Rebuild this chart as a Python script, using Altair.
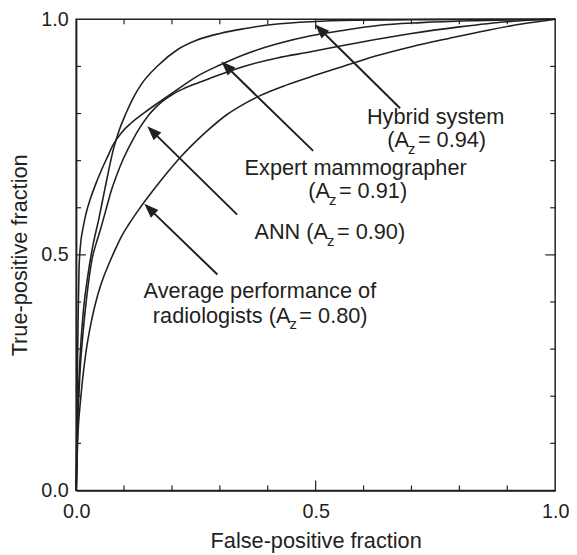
import math
import altair as alt
import pandas as pd

W, H = 485, 477
INK = "#231f20"
FONT = "Liberation Sans"

# ---- ROC curves (false-positive fraction, true-positive fraction) ----
hyb_fpf = [0, 0.003, 0.008, 0.015, 0.025, 0.035, 0.047, 0.06, 0.078, 0.09, 0.103, 0.12, 0.136, 0.171, 0.212, 0.25, 0.3, 0.35, 0.42, 0.49, 0.58, 0.7, 0.85, 1]
hyb_tpf = [0, 0.15, 0.28, 0.38, 0.46, 0.52, 0.575, 0.64, 0.725, 0.765, 0.798, 0.835, 0.862, 0.902, 0.936, 0.955, 0.97, 0.98, 0.99, 0.995, 0.998, 0.999, 1, 1]

exp_fpf = [0, 0.002, 0.004, 0.006, 0.009, 0.014, 0.02, 0.03, 0.04, 0.052, 0.064, 0.078, 0.095, 0.115, 0.144, 0.177, 0.21, 0.254, 0.3, 0.35, 0.42, 0.49, 0.56, 0.63, 0.72, 0.82, 0.92, 1]
exp_tpf = [0, 0.2, 0.36, 0.47, 0.52, 0.555, 0.585, 0.62, 0.648, 0.678, 0.705, 0.735, 0.76, 0.78, 0.803, 0.827, 0.85, 0.88, 0.903, 0.925, 0.948, 0.965, 0.977, 0.987, 0.993, 0.997, 0.999, 1]

ann_fpf = [0, 0.003, 0.008, 0.014, 0.022, 0.033, 0.042, 0.051, 0.062, 0.072, 0.085, 0.099, 0.116, 0.133, 0.15, 0.165, 0.18, 0.2, 0.225, 0.254, 0.28, 0.35, 0.42, 0.49, 0.56, 0.625, 0.7, 0.8, 0.9, 1]
ann_tpf = [0, 0.13, 0.25, 0.33, 0.41, 0.49, 0.525, 0.555, 0.595, 0.632, 0.67, 0.705, 0.74, 0.77, 0.795, 0.812, 0.826, 0.84, 0.853, 0.865, 0.875, 0.9, 0.918, 0.931, 0.945, 0.957, 0.97, 0.984, 0.995, 1]

rad_fpf = [0, 0.003, 0.01, 0.02, 0.033, 0.045, 0.058, 0.068, 0.08, 0.095, 0.11, 0.13, 0.16, 0.192, 0.22, 0.25, 0.28, 0.315, 0.35, 0.384, 0.43, 0.487, 0.557, 0.625, 0.7, 0.78, 0.86, 0.93, 1]
rad_tpf = [0, 0.1, 0.2, 0.29, 0.365, 0.415, 0.455, 0.48, 0.508, 0.54, 0.565, 0.595, 0.636, 0.677, 0.71, 0.741, 0.769, 0.798, 0.82, 0.838, 0.857, 0.877, 0.9, 0.922, 0.942, 0.96, 0.977, 0.99, 1]

series_names = ["Hybrid system", "Expert mammographer", "ANN", "Average radiologists"]
series_x = [hyb_fpf, exp_fpf, ann_fpf, rad_fpf]
series_y = [hyb_tpf, exp_tpf, ann_tpf, rad_tpf]

# ---- axis ticks ----
major_ticks = [0.5]
minor_ticks = [0.1, 0.2, 0.3, 0.4, 0.6, 0.7, 0.8, 0.9]
label_values = [0, 0.5, 1]

# ---- annotation text pieces (data coordinates) ----
center_text = ["Hybrid system", "Expert mammographer", "Average performance of"]
center_x = [0.7505, 0.5835, 0.3835]
center_y = [0.7780, 0.6688, 0.4083]

right_text = ["(A", "(A", "ANN (A", "radiologists (A"]
right_x = [0.6948, 0.5299, 0.5258, 0.4474]
right_y = [0.7290, 0.6208, 0.5333, 0.3563]

sub_text = ["z", "z", "z", "z"]
sub_x = [0.6928, 0.5279, 0.5238, 0.4454]
sub_y = [0.7150, 0.6063, 0.5188, 0.3417]

left_text = ["= 0.94)", "= 0.91)", "= 0.90)", "= 0.80)"]
left_x = [0.7134, 0.5485, 0.5444, 0.4660]
left_y = [0.7290, 0.6208, 0.5333, 0.3563]

# ---- arrows (tip points at curve, tail near label) ----
tip_x = [0.499, 0.3031, 0.1485, 0.1423]
tip_y = [0.989, 0.9104, 0.7729, 0.6083]
tail_x = [0.6763, 0.4948, 0.3361, 0.2948]
tail_y = [0.8111, 0.7208, 0.5854, 0.4583]

# ---------------------------------------------------------------
rows = []
for name, xs_, ys_ in zip(series_names, series_x, series_y):
    for i, (a, b) in enumerate(zip(xs_, ys_)):
        rows.append({"series": name, "fpf": a, "tpf": b, "order": i})
curves_df = pd.DataFrame(rows)


def xs():
    return alt.Scale(domain=[0, 1], nice=False, zero=False)


def ys():
    return alt.Scale(domain=[0, 1], nice=False, zero=False)


def x_axis():
    return alt.Axis(
        title="False-positive fraction", values=label_values, format=".1f",
        ticks=False, tickSize=0, grid=False, labelPadding=11, labelFlush=False,
        titleY=58, titleBaseline="alphabetic", titleColor=INK, labelColor=INK)


def y_axis():
    return alt.Axis(
        title="True-positive fraction", values=label_values, format=".1f",
        ticks=False, tickSize=0, grid=False, labelPadding=8, labelFlush=False,
        titleX=-50, titleBaseline="alphabetic", titleColor=INK, labelColor=INK)


def X(field):
    return alt.X(field, type="quantitative", scale=xs(), axis=x_axis())


def Y(field):
    return alt.Y(field, type="quantitative", scale=ys(), axis=y_axis())


curves = alt.Chart(curves_df).mark_line(
    color=INK, strokeWidth=1.6, interpolate="monotone"
).encode(
    x=X("fpf"),
    y=Y("tpf"),
    detail="series:N",
    order="order:Q",
)


def tick_layer(vals, length, side):
    df = pd.DataFrame({"v": vals})
    base = alt.Chart(df).mark_rule(color=INK, strokeWidth=1.2)
    if side == "bottom":
        return base.encode(x=X("v"), y=alt.value(H), y2=alt.value(H - length))
    if side == "top":
        return base.encode(x=X("v"), y=alt.value(0), y2=alt.value(length))
    if side == "left":
        return base.encode(y=Y("v"), x=alt.value(0), x2=alt.value(length))
    return base.encode(y=Y("v"), x=alt.value(W), x2=alt.value(W - length))


tick_layers = []
for side in ["bottom", "top", "left", "right"]:
    tick_layers.append(tick_layer(major_ticks, 10, side))
    tick_layers.append(tick_layer(minor_ticks, 5, side))

# arrows
arr_rows = []
for tx, ty, sx, sy in zip(tip_x, tip_y, tail_x, tail_y):
    dxp = (tx - sx) * W
    dyp = -(ty - sy) * H
    L = math.hypot(dxp, dyp)
    ang = math.degrees(math.atan2(dxp, -dyp)) % 360
    back = 8.0 / L
    arr_rows.append({
        "tx": tx, "ty": ty, "sx": sx, "sy": sy,
        "ex": tx - (tx - sx) * back, "ey": ty - (ty - sy) * back,
        "ang": ang,
    })
arr_df = pd.DataFrame(arr_rows)

arrow_lines = alt.Chart(arr_df).mark_rule(color=INK, strokeWidth=2).encode(
    x=X("sx"),
    y=Y("sy"),
    x2="ex:Q",
    y2="ey:Q",
)

arrow_heads = alt.Chart(arr_df).mark_point(
    shape="M0,0L-0.38,1L0.38,1Z", filled=True, color=INK, opacity=1, size=840, strokeWidth=0
).encode(
    x=X("tx"),
    y=Y("ty"),
    angle=alt.Angle("ang:Q", scale=None),
)


def text_layer(texts, tx, ty, align, size):
    df = pd.DataFrame({"t": texts, "x": tx, "y": ty})
    return alt.Chart(df).mark_text(
        align=align, baseline="alphabetic", font=FONT, fontSize=size, color=INK
    ).encode(
        x=X("x"),
        y=Y("y"),
        text="t:N",
    )


texts = [
    text_layer(center_text, center_x, center_y, "center", 22),
    text_layer(right_text, right_x, right_y, "right", 22),
    text_layer(sub_text, sub_x, sub_y, "left", 15),
    text_layer(left_text, left_x, left_y, "left", 22),
]

chart = alt.layer(curves, *tick_layers, arrow_lines, arrow_heads, *texts).properties(
    width=W,
    height=H,
    autosize=alt.AutoSizeParams(type="none"),
    padding={"left": 69, "top": 8, "right": 14, "bottom": 70},
    background="white",
).configure_view(
    stroke=INK, strokeWidth=1.5
).configure_axis(
    domainColor=INK, domainWidth=1.5,
    labelFont=FONT, labelFontSize=20, labelColor=INK,
    titleFont=FONT, titleFontSize=22, titleColor=INK, titleFontWeight="normal",
)

chart.save("out.html", embed_options={"renderer": "svg", "actions": False})
